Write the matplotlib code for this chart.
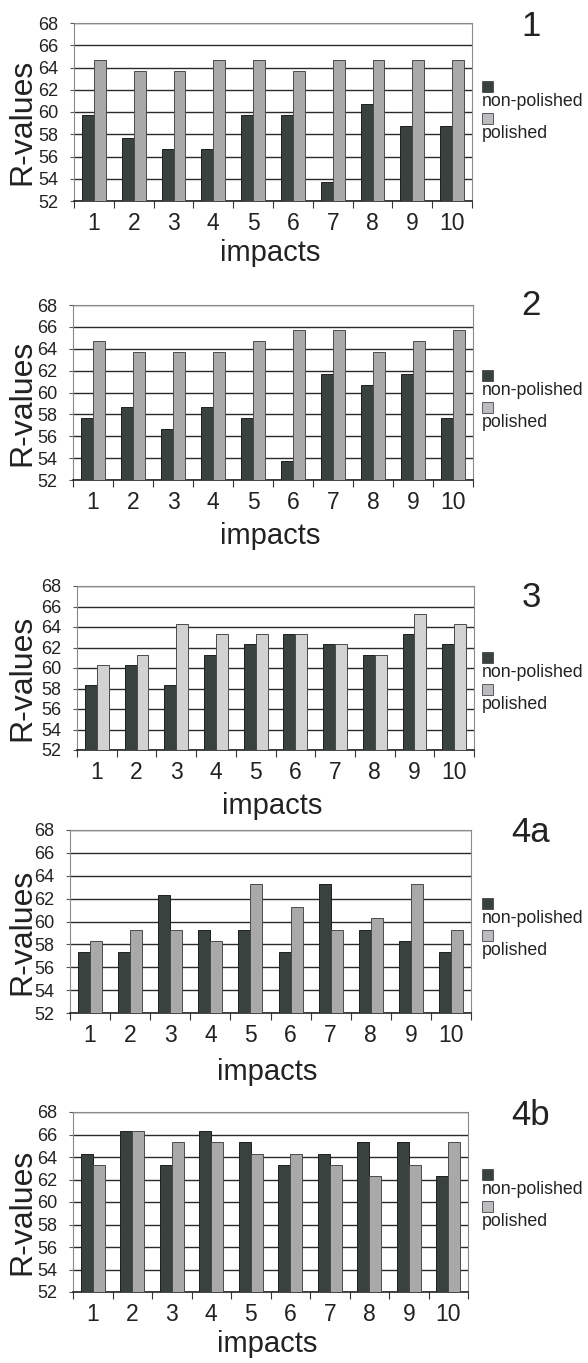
import numpy as np
import matplotlib
matplotlib.use('Agg')
import matplotlib.pyplot as plt
from matplotlib.patches import Rectangle

plt.rcParams['font.family'] = ['Liberation Sans', 'DejaVu Sans']

impacts = [str(i) for i in range(1, 11)]
panel_names = ['1', '2', '3', '4a', '4b']

non_1 = [59.7, 57.7, 56.7, 56.7, 59.7, 59.7, 53.7, 60.7, 58.7, 58.7]
pol_1 = [64.7, 63.7, 63.7, 64.7, 64.7, 63.7, 64.7, 64.7, 64.7, 64.7]
non_2 = [57.7, 58.7, 56.7, 58.7, 57.7, 53.7, 61.7, 60.7, 61.7, 57.7]
pol_2 = [64.7, 63.7, 63.7, 63.7, 64.7, 65.7, 65.7, 63.7, 64.7, 65.7]
non_3 = [58.3, 60.3, 58.3, 61.3, 62.3, 63.3, 62.3, 61.3, 63.3, 62.3]
pol_3 = [60.3, 61.3, 64.3, 63.3, 63.3, 63.3, 62.3, 61.3, 65.3, 64.3]
non_4a = [57.3, 57.3, 62.3, 59.3, 59.3, 57.3, 63.3, 59.3, 58.3, 57.3]
pol_4a = [58.3, 59.3, 59.3, 58.3, 63.3, 61.3, 59.3, 60.3, 63.3, 59.3]
non_4b = [64.3, 66.3, 63.3, 66.3, 65.3, 63.3, 64.3, 65.3, 65.3, 62.3]
pol_4b = [63.3, 66.3, 65.3, 65.3, 64.3, 64.3, 63.3, 62.3, 63.3, 65.3]

non_all = [non_1, non_2, non_3, non_4a, non_4b]
pol_all = [pol_1, pol_2, pol_3, pol_4a, pol_4b]

dark = '#3a4240'
light = ['#a9a9a9', '#a9a9a9', '#d2d2d2', '#a9a9a9', '#a9a9a9']
leg_light = '#bcbcc0'

W, H = 588, 1363
# axes boxes in pixels: left, top, right, bottom
boxes = [(74, 23, 472, 201),
         (73, 305, 473, 480),
         (77, 586, 474, 750),
         (70, 830, 471, 1013),
         (73, 1112, 468, 1292)]
label_base = [36, 315, 607, 842, 1125]
xlab_base = [261, 544, 814, 1080, 1352]
leg_top = [81, 370, 652, 898, 1169]

fig = plt.figure(figsize=(W / 100, H / 100), dpi=100)

def fx(px):
    return px / W

def fy(py):
    return 1 - py / H

x = np.arange(len(impacts))
bw = 0.3
for i, name in enumerate(panel_names):
    l, t, r, b = boxes[i]
    ax = fig.add_axes([fx(l), fy(b), (r - l) / W, (b - t) / H])
    ax.bar(x - bw / 2, non_all[i], bw, color=dark, edgecolor='#1e1e1e',
           linewidth=0.7, zorder=3)
    ax.bar(x + bw / 2, pol_all[i], bw, color=light[i], edgecolor='#4a4a4a',
           linewidth=0.7, zorder=3)
    ax.set_ylim(52, 68)
    ax.set_xlim(-0.5, 9.5)
    ax.set_yticks(np.arange(52, 69, 2))
    ax.tick_params(axis='y', labelsize=13, length=3, width=0.8, pad=8,
                   colors='#555555', labelcolor='#222222')
    ax.set_xticks(x)
    ax.set_xticklabels(impacts, fontsize=16.5, color='#222222')
    ax.set_xticks(np.arange(-0.5, 10, 1), minor=True)
    ax.tick_params(axis='x', which='major', length=0, pad=8)
    ax.tick_params(axis='x', which='minor', length=5, width=0.8,
                   direction='out', color='#333333')
    ax.grid(axis='y', color='#2a2a2a', linewidth=1.0, zorder=0)
    ax.set_axisbelow(True)
    ax.spines['top'].set_color('#8a8a8a')
    ax.spines['right'].set_color('#8a8a8a')
    ax.spines['left'].set_color('#8a8a8a')
    ax.spines['bottom'].set_color('#111111')
    ax.spines['bottom'].set_linewidth(1.1)

    fig.text(fx(22), fy((t + b) / 2 + 10), 'R-values', fontsize=23,
             rotation=90, ha='center', va='center', color='#222222')
    fig.text(fx((l + r) / 2 - 3), fy(xlab_base[i]), 'impacts', fontsize=21,
             ha='center', va='baseline', color='#222222')

    # panel label
    fig.text(fx(531), fy(label_base[i]), name, fontsize=25, ha='center',
             va='baseline', color='#222222')

    # legend: square above each text
    y0 = leg_top[i]
    for col, lab, sq_top, base in zip([dark, leg_light], ['non-polished', 'polished'],
                                      [y0, y0 + 32], [y0 + 25, y0 + 57]):
        fig.patches.append(Rectangle((fx(482), fy(sq_top + 11)), 11 / W, 11 / H,
                                     transform=fig.transFigure, facecolor=col,
                                     edgecolor='#444444', linewidth=0.6))
        fig.text(fx(482), fy(base), lab, fontsize=12.8, ha='left', va='baseline',
                 color='#222222')

plt.savefig('out.png', dpi=100)
